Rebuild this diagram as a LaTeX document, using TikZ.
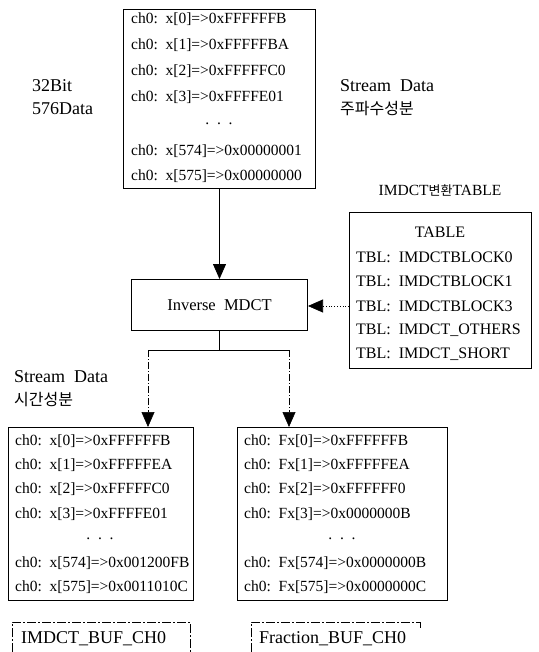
\documentclass[tikz,border=0pt]{standalone}
\usepackage{fontspec}
\setmainfont{Liberation Serif}
\newfontfamily\krfont{Noto Sans CJK KR}
\usetikzlibrary{arrows.meta,positioning,calc}

\begin{document}
\begin{tikzpicture}[x=1pt,y=-1pt,
    box/.style={draw,line width=1pt,inner sep=0pt,anchor=north west},
    row/.style={anchor=west,inner sep=0pt,font=\fontsize{15.5}{18}\selectfont},
    lbl/.style={anchor=west,inner sep=0pt,font=\fontsize{18}{20}\selectfont},
    kr/.style={anchor=west,inner sep=0pt,font=\krfont\fontsize{16}{18}\selectfont},
    tip/.style={-{Triangle[width=13pt,length=15pt]},line width=0.8pt},
    dashdot/.style={line width=0.6pt,dash pattern=on 7pt off 2pt on 1pt off 2pt},
    framebox/.style={line width=0.6pt,dash pattern=on 9pt off 2pt on 2pt off 2pt}]
    \useasboundingbox (0,0) rectangle (538,652);

    % input: frequency samples
    \node[box,minimum width=192pt,minimum height=179pt] (freq) at (123,9) {};
    \node[row] (f0) at (131,19)  {ch0:\ \ x[0]=>0xFFFFFFB};
    \node[row] (f1) at (131,45)  {ch0:\ \ x[1]=>0xFFFFFBA};
    \node[row] (f2) at (131,71)  {ch0:\ \ x[2]=>0xFFFFFC0};
    \node[row] (f3) at (131,97)  {ch0:\ \ x[3]=>0xFFFFE01};
    \node[row,anchor=center] (fd) at (219,124) {.\ \ .\ \ .};
    \node[row] (f4) at (131,151) {ch0:\ \ x[574]=>0x00000001};
    \node[row] (f5) at (131,176) {ch0:\ \ x[575]=>0x00000000};

    \node[lbl] (bits) at (32,86)  {32Bit};
    \node[lbl] (cnt)  at (32,109) {576Data};
    \node[lbl] (sfreq) at (340,86) {Stream\ \ Data};
    \node[kr]  (kfreq) at (340,109) {주파수성분};

    % IMDCT transform
    \node[box,minimum width=176pt,minimum height=51pt] (imdct) at (131,279) {};
    \node[font=\fontsize{16.5}{18}\selectfont] at (imdct.center) {Inverse\ \ MDCT};

    % window tables
    \node[font=\fontsize{15.5}{18}\selectfont] (ttl) at (440,190)
        {IMDCT{\krfont\fontsize{13}{15}\selectfont 변환}TABLE};
    \node[box,minimum width=182pt,minimum height=156pt] (tbl) at (349,212) {};
    \node[row,anchor=center,font=\fontsize{16}{18}\selectfont] (t0) at (440,232) {TABLE};
    \node[row,font=\fontsize{16}{18}\selectfont] (t1) at (356,257) {TBL:\ \ IMDCTBLOCK0};
    \node[row,font=\fontsize{16}{18}\selectfont] (t2) at (356,281) {TBL:\ \ IMDCTBLOCK1};
    \node[row,font=\fontsize{16}{18}\selectfont] (t3) at (356,306) {TBL:\ \ IMDCTBLOCK3};
    \node[row,font=\fontsize{16}{18}\selectfont] (t4) at (356,330) {TBL:\ \ IMDCT\_OTHERS};
    \node[row,font=\fontsize{16}{18}\selectfont] (t5) at (356,354) {TBL:\ \ IMDCT\_SHORT};

    % output: time samples and fractions
    \node[lbl] (stime) at (14,377) {Stream\ \ Data};
    \node[kr]  (ktime) at (14,400) {시간성분};

    \node[box,minimum width=185pt,minimum height=173pt] (timebuf) at (8,427) {};
    \node[row] (a0) at (15,441) {ch0:\ \ x[0]=>0xFFFFFFB};
    \node[row] (a1) at (15,465) {ch0:\ \ x[1]=>0xFFFFFEA};
    \node[row] (a2) at (15,489) {ch0:\ \ x[2]=>0xFFFFFC0};
    \node[row] (a3) at (15,514) {ch0:\ \ x[3]=>0xFFFFE01};
    \node[row,anchor=center] (ad) at (100,539) {.\ \ .\ \ .};
    \node[row] (a4) at (15,563) {ch0:\ \ x[574]=>0x001200FB};
    \node[row] (a5) at (15,587) {ch0:\ \ x[575]=>0x0011010C};

    \node[box,minimum width=210pt,minimum height=173pt] (fracbuf) at (237,427) {};
    \node[row] (b0) at (244,441) {ch0:\ \ Fx[0]=>0xFFFFFFB};
    \node[row] (b1) at (244,465) {ch0:\ \ Fx[1]=>0xFFFFFEA};
    \node[row] (b2) at (244,489) {ch0:\ \ Fx[2]=>0xFFFFFF0};
    \node[row] (b3) at (244,514) {ch0:\ \ Fx[3]=>0x0000000B};
    \node[row,anchor=center] (bd) at (342,539) {.\ \ .\ \ .};
    \node[row] (b4) at (244,563) {ch0:\ \ Fx[574]=>0x0000000B};
    \node[row] (b5) at (244,587) {ch0:\ \ Fx[575]=>0x0000000C};

    % buffer names
    \node[lbl] (nameL) at (21,639) {IMDCT\_BUF\_CH0};
    \node[lbl] (nameR) at (259,639) {Fraction\_BUF\_CH0};
    \draw[framebox] (12,652) |- (190,622) -- (190,652);
    \draw[framebox] (251,652) |- (420,622);
    \draw[framebox] (420,622) -- (420,628);

    % connectors
    \draw[tip] (freq.south) -- (freq.south |- imdct.north);
    \draw[tip,dotted,line width=0.7pt] (tbl.west |- t3) -- (imdct.east |- t3);
    \coordinate (forkL) at (148,350);
    \coordinate (forkR) at (289,350);
    \draw[line width=0.8pt] (imdct.south) -- (imdct.south |- forkL);
    \draw[line width=0.7pt] (forkL) -- (forkR);
    \draw[tip,dashdot] (forkL) -- (forkL |- timebuf.north);
    \draw[tip,dashdot] (forkR) -- (forkR |- fracbuf.north);
\end{tikzpicture}
\end{document}
